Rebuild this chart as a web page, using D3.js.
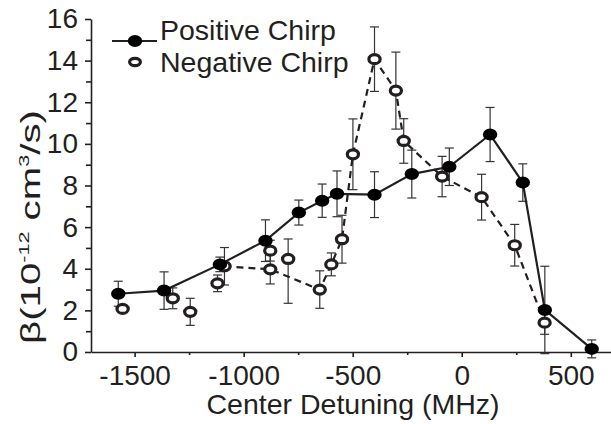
<!DOCTYPE html>
<html><head><meta charset="utf-8">
<script src="https://cdn.jsdelivr.net/npm/d3@7"></script>
<style>
body{margin:0;background:#fff}
text{font-family:"Liberation Sans",Arial,Helvetica,sans-serif;fill:#231f20}
</style>
</head><body>
<svg id="c" width="611" height="424"></svg>
<script>
// ---- data ----
const posX   = [-1575, -1365, -1109, -900, -747, -640, -572, -400, -229, -57, 130, 280, 381, 596];
const posY   = [2.8, 2.95, 4.21, 5.35, 6.7, 7.27, 7.6, 7.56, 8.55, 8.9, 10.45, 8.14, 2.02, 0.15];
const posErr = [0.6, 0.9, 0.35, 1.0, 0.6, 0.8, 1.1, 1.1, 1.15, 0.9, 1.3, 0.9, 2.1, 0.43];

const negX       = [-1555, -1325, -1245, -1120, -1088, -878, -878, -796, -651, -598, -549, -499, -400, -302, -266, -90, 91, 243, 380];
const negY       = [2.07, 2.58, 1.93, 3.3, 4.12, 4.87, 3.97, 4.47, 3.0, 4.21, 5.42, 9.5, 14.07, 12.56, 10.14, 8.43, 7.44, 5.13, 1.41];
const negErrLow  = [0.15, 0.5, 0.65, 0.4, 0.9, 0.5, 0.7, 2.13, 0.9, 0.55, 1.15, 1.7, 1.55, 1.85, 1.07, 0.97, 1.1, 1.0, 0.56];
const negErrHigh = [0.15, 0.5, 0.65, 0.4, 0.9, 0.5, 0.7, 0.96, 0.9, 0.55, 1.15, 1.7, 1.55, 1.85, 1.07, 0.97, 1.1, 1.0, 0.56];
const negOnLine  = [false, false, false, false, true, false, true, false, true, true, true, true, true, true, true, true, true, true, true];

const xTicks = [-1500, -1000, -500, 0, 500];
const xMinorTicks = [-1250, -750, -250, 250];
const yTicks = [0, 2, 4, 6, 8, 10, 12, 14, 16];
const yMinorTicks = [1, 3, 5, 7, 9, 11, 13, 15];
const legendLabels = ["Positive Chirp", "Negative Chirp"];
const xTitle = "Center Detuning (MHz)";

// ---- chart ----
const svg = d3.select("#c");
const x = d3.scaleLinear().domain([-1700, 700]).range([91, 614.4]);
const y = d3.scaleLinear().domain([0, 16]).range([352, 19]);
const ink = "#231f20";

// axes
const gx = svg.append("g").attr("transform", "translate(0,352)")
  .call(d3.axisBottom(x).tickValues(xTicks).tickSize(5).tickSizeOuter(0).tickPadding(8));
svg.append("g").attr("transform", "translate(0,352)")
  .call(d3.axisBottom(x).tickValues(xMinorTicks).tickSize(3).tickSizeOuter(0).tickFormat(""))
  .select(".domain").remove();
const gy = svg.append("g").attr("transform", "translate(91,0)")
  .call(d3.axisLeft(y).tickValues(yTicks).tickSize(6).tickSizeOuter(0).tickPadding(7));
svg.append("g").attr("transform", "translate(91,0)")
  .call(d3.axisLeft(y).tickValues(yMinorTicks).tickSize(5).tickSizeOuter(0).tickFormat(""))
  .select(".domain").remove();

svg.selectAll(".domain, .tick line").attr("stroke", ink).attr("stroke-width", 1.6);
gx.selectAll("text").style("font-size", "28px").attr("fill", ink)
  .text(d => d < 0 ? "-" + Math.abs(d) : d);
gy.selectAll("text").style("font-size", "28px").attr("fill", ink);

// x title
svg.append("text").attr("x", 353).attr("y", 414).attr("text-anchor", "middle")
  .style("font-size", "28.5px").text(xTitle);

// y title
const yl = svg.append("g").attr("transform", "translate(40,227) rotate(-90)");
const yt = yl.append("text").style("font-size", "28px");
yt.append("tspan").text("β(10");
yt.append("tspan").attr("dy", -11).style("font-size", "15px").text("-12");
yt.append("tspan").attr("dy", 11).text(" cm");
yt.append("tspan").attr("dy", -11).style("font-size", "15px").text("3");
yt.append("tspan").attr("dy", 11).text("/s)");
const yw = yt.node().getBBox().width;
yt.attr("transform", `scale(${234 / yw},1) translate(${-yw / 2},0)`);

// error bars
function errBars(xs, ys, lo, hi) {
  const g = svg.append("g").attr("stroke", "#333").attr("stroke-width", 1.2).attr("fill", "none");
  xs.forEach((xv, i) => {
    const cx = x(xv), y1 = y(ys[i] + hi[i]), y0 = y(ys[i] - lo[i]);
    g.append("line").attr("x1", cx).attr("x2", cx).attr("y1", y1).attr("y2", y0);
    g.append("line").attr("x1", cx - 4.5).attr("x2", cx + 4.5).attr("y1", y1).attr("y2", y1);
    g.append("line").attr("x1", cx - 4.5).attr("x2", cx + 4.5).attr("y1", y0).attr("y2", y0);
  });
}
errBars(negX, negY, negErrLow, negErrHigh);
errBars(posX, posY, posErr, posErr);

// lines
const line = d3.line().x(d => x(d[0])).y(d => y(d[1]));
const negPts = negX.map((v, i) => [v, negY[i]]).filter((d, i) => negOnLine[i]);
svg.append("path").attr("d", line(negPts)).attr("fill", "none")
  .attr("stroke", ink).attr("stroke-width", 2.2).attr("stroke-dasharray", "7,5");
const posPts = posX.map((v, i) => [v, posY[i]]);
svg.append("path").attr("d", line(posPts)).attr("fill", "none")
  .attr("stroke", ink).attr("stroke-width", 2.2);

// markers
svg.append("g").selectAll("ellipse").data(negX).join("ellipse")
  .attr("cx", d => x(d)).attr("cy", (d, i) => y(negY[i]))
  .attr("rx", 5.6).attr("ry", 4.5).attr("fill", "#fff").attr("stroke", ink).attr("stroke-width", 3.2);
svg.append("g").selectAll("ellipse").data(posX).join("ellipse")
  .attr("cx", d => x(d)).attr("cy", (d, i) => y(posY[i]))
  .attr("rx", 7.2).attr("ry", 6).attr("fill", "#000");

// legend
const lg = svg.append("g");
lg.append("line").attr("x1", 112).attr("x2", 157).attr("y1", 41).attr("y2", 41)
  .attr("stroke", ink).attr("stroke-width", 2.2);
lg.append("ellipse").attr("cx", 135).attr("cy", 41).attr("rx", 7.2).attr("ry", 6).attr("fill", "#000");
lg.append("ellipse").attr("cx", 135).attr("cy", 62).attr("rx", 5.4).attr("ry", 3.6)
  .attr("fill", "#fff").attr("stroke", ink).attr("stroke-width", 3.2);
lg.selectAll("text.lab").data(legendLabels).join("text").attr("class", "lab")
  .attr("x", 160).attr("y", (d, i) => 40 + i * 32).style("font-size", "28.5px").text(d => d);
</script>
</body></html>
